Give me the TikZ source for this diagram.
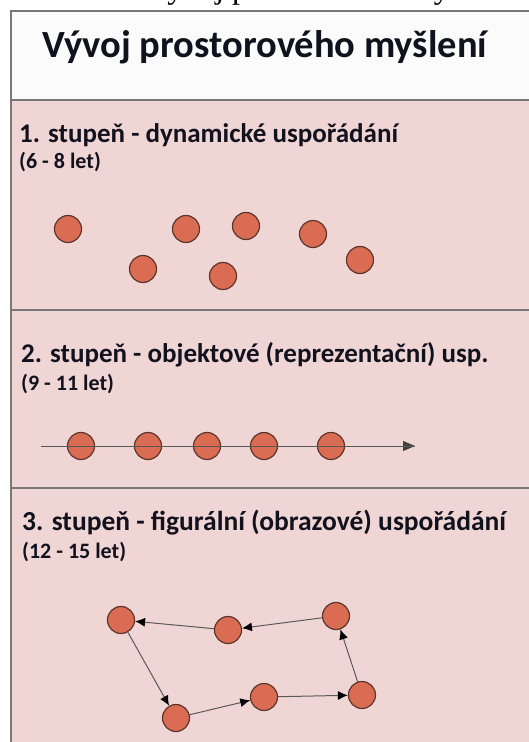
\documentclass[tikz,border=0pt]{standalone}
\usepackage{fontspec}
\setmainfont{Carlito}
\newfontfamily\capfont{Liberation Serif}
\usetikzlibrary{arrows.meta}

\definecolor{panelbg}{RGB}{240,213,213}
\definecolor{framegray}{RGB}{120,120,120}
\definecolor{dotfill}{RGB}{218,108,84}
\definecolor{dotedge}{RGB}{90,55,42}
\definecolor{inkdark}{RGB}{18,18,30}

\tikzset{
  dot/.style={circle, fill=dotfill, draw=dotedge, line width=1.2pt,
              minimum size=27pt, inner sep=0pt},
  frameline/.style={draw=framegray, line width=1.4pt},
  stagehead/.style={anchor=base west, inner sep=0pt, text=inkdark,
                    font=\bfseries\fontsize{27}{31}\selectfont},
  stageage/.style={anchor=base west, inner sep=0pt, text=inkdark,
                   font=\bfseries\fontsize{22}{26}\selectfont},
  flow/.style={draw=black!65, line width=1pt,
               -{Latex[length=10pt,width=9pt,fill=black,color=black]}},
}

\begin{document}
\begin{tikzpicture}[x=1pt, y=-1pt]
  \useasboundingbox (0,0) rectangle (529,742);
  \fill[white] (0,0) rectangle (529,742);

  % caption running above the frame, cut by the page edge
  \begin{scope}
    \clip (0,0) rectangle (529,742);
    \node[anchor=base west, inner sep=0pt, font=\capfont\fontsize{32}{36}\selectfont]
      (caption) at (144,-2) {Vývoj prostorového myšlení};
  \end{scope}

  % panels
  \fill[white!97!gray] (11,11) rectangle (529,100);
  \fill[panelbg] (11,100) rectangle (529,742);
  \draw[frameline] (529,11) -- (11,11) -- (11,742);
  \draw[frameline] (11,100) -- (529,100);
  \draw[frameline] (11,310) -- (529,310);
  \draw[frameline] (11,488) -- (529,488);

  % title
  \node[anchor=base west, inner sep=0pt, text=inkdark,
        font=\bfseries\fontsize{38.5}{43}\selectfont] (title) at (42,57)
        {Vývoj prostorového myšlení};

  % stage 1
  \node[stagehead] (h1) at (19,142) {1. stupeň - dynamické uspořádání};
  \node[stageage] (a1) at (19,168) {(6 - 8 let)};
  \node[dot] (p1) at (68,229) {};
  \node[dot] (p2) at (143,269) {};
  \node[dot] (p3) at (186,229) {};
  \node[dot] (p4) at (246,226) {};
  \node[dot] (p5) at (223,276) {};
  \node[dot] (p6) at (313,234) {};
  \node[dot] (p7) at (360,260) {};

  % stage 2
  \node[stagehead] (h2) at (21,362) {2. stupeň - objektové (reprezentační) usp.};
  \node[stageage] (a2) at (21,390) {(9 - 11 let)};
  \coordinate (ls) at (41,446);
  \coordinate (le) at (415,446);
  \draw[draw=black!75, line width=1pt, -{Triangle[length=12pt,width=10pt]}] (ls) -- (le);
  \node[dot] (q1) at (81,446) {};
  \node[dot] (q2) at (148,446) {};
  \node[dot] (q3) at (207,446) {};
  \node[dot] (q4) at (264,446) {};
  \node[dot] (q5) at (331,446) {};
  \draw[draw=black!65, line width=0.9pt] (ls) -- (le);

  % stage 3
  \node[stagehead, font=\bfseries\fontsize{27.5}{31}\selectfont] (h3) at (22,530)
    {3. stupeň - figurální (obrazové) uspořádání};
  \node[stageage] (a3) at (22,558) {(12 - 15 let)};
  \node[dot] (r1) at (121,620) {};
  \node[dot] (r2) at (228,630) {};
  \node[dot] (r3) at (336,616) {};
  \node[dot] (r4) at (362,695) {};
  \node[dot] (r5) at (264,697) {};
  \node[dot] (r6) at (176,718) {};
  \draw[flow] (r3) -- (r2);
  \draw[flow] (r2) -- (r1);
  \draw[flow] (r1) -- (r6);
  \draw[flow] (r6) -- (r5);
  \draw[flow] (r5) -- (r4);
  \draw[flow] (r4) -- (r3);
\end{tikzpicture}
\end{document}
